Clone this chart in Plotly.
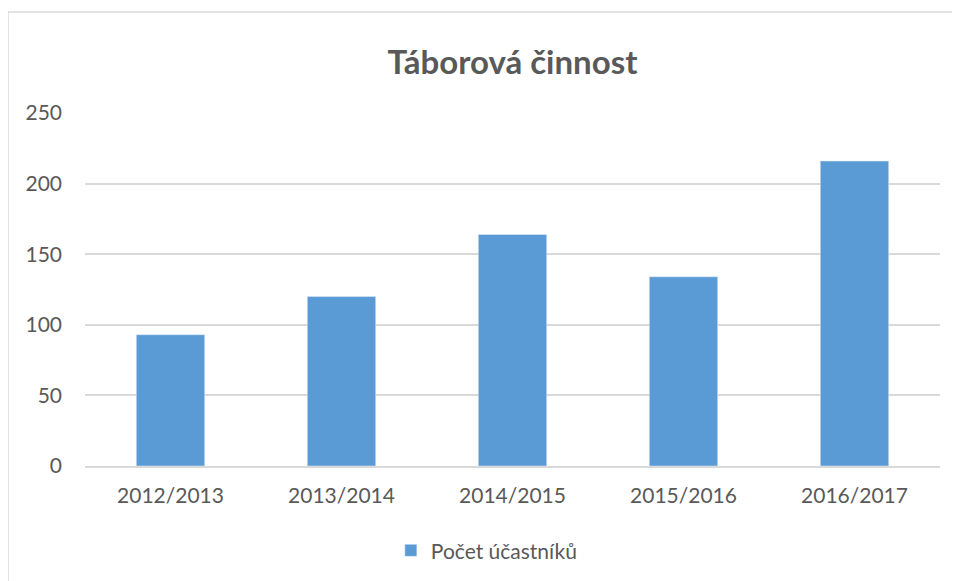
import plotly.graph_objects as go

categories = ["2012/2013", "2013/2014", "2014/2015", "2015/2016", "2016/2017"]
values = [93, 120, 164, 134, 216]
series_name = "Počet účastníků"
title_text = "Táborová činnost"
y_ticks = [0, 50, 100, 150, 200, 250]

font_family = "Lato, 'Open Sans', sans-serif"
text_color = "#595959"
grid_color = "#d9d9d9"
bar_color = "#5b9bd5"

fig = go.Figure(
    go.Bar(
        x=categories,
        y=values,
        name=series_name,
        marker=dict(color=bar_color),
        showlegend=True,
    )
)

# page body has an 8px margin, so the figure sits at (8, 8)
fig.update_layout(
    width=960,
    height=581,
    margin=dict(l=77, r=28, t=105, b=123),
    paper_bgcolor="white",
    plot_bgcolor="white",
    bargap=0.6,
    font=dict(family=font_family, color=text_color, size=21),
    title=dict(
        text="<b>" + title_text + "</b>",
        x=0.5,
        xref="paper",
        xanchor="center",
        y=1 - 54 / 581,
        yref="container",
        yanchor="middle",
        font=dict(size=33, color=text_color, family=font_family),
    ),
    legend=dict(
        orientation="h",
        x=0.47,
        xanchor="center",
        y=-0.24,
        yanchor="middle",
        font=dict(size=21, color=text_color),
        itemwidth=30,
    ),
    xaxis=dict(
        showgrid=False,
        showline=True,
        linecolor=grid_color,
        linewidth=1.5,
        ticks="",
        ticklabelstandoff=10,
        tickfont=dict(size=21, color=text_color),
    ),
    yaxis=dict(
        range=[0, 250],
        tickvals=y_ticks,
        showgrid=True,
        gridcolor=grid_color,
        gridwidth=1.5,
        zeroline=False,
        showline=False,
        ticks="",
        ticklabelstandoff=22,
        tickfont=dict(size=21, color=text_color),
    ),
    shapes=[
        dict(
            type="rect",
            xref="paper",
            yref="paper",
            x0=-77 / 855,
            x1=1.2,
            y0=-0.6,
            y1=1 + 101 / 353,
            line=dict(color="#d9d9d9", width=1.5),
            fillcolor="rgba(0,0,0,0)",
            layer="below",
        )
    ],
)

fig.write_html("out.html")
